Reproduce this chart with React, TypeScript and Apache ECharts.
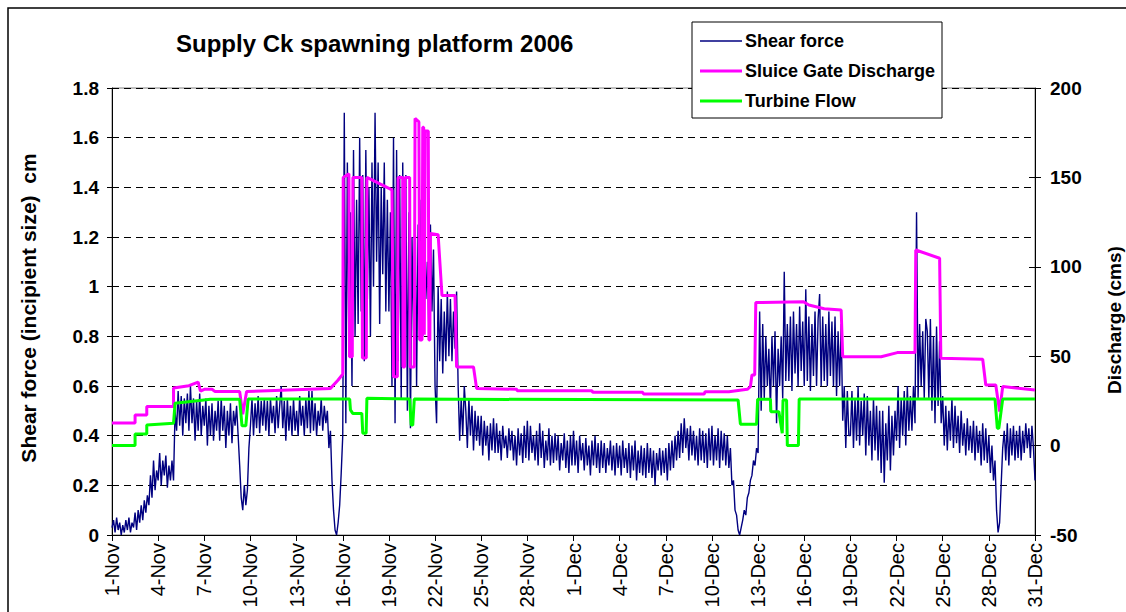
import React, { useEffect, useRef } from "react";
import * as echarts from "echarts";

// X tick labels (every 3 days from 1-Nov to 31-Dec 2006)
const tickLabels = [
  "1-Nov", "4-Nov", "7-Nov", "10-Nov", "13-Nov", "16-Nov", "19-Nov", "22-Nov", "25-Nov", "28-Nov",
  "1-Dec", "4-Dec", "7-Dec", "10-Dec", "13-Dec", "16-Dec", "19-Dec", "22-Dec", "25-Dec", "28-Dec", "31-Dec",
];

// Shear force (cm), 10 readings per day; rows are days starting 1-Nov
const shearNov = [
  [0.03, 0.06, 0.01, 0.07, 0.02, 0.05, 0.0, 0.04, 0.01, 0.06],
  [0.02, 0.07, 0.01, 0.05, 0.03, 0.09, 0.02, 0.1, 0.05, 0.12],
  [0.06, 0.14, 0.09, 0.16, 0.12, 0.24, 0.15, 0.3, 0.18, 0.26],
  [0.22, 0.33, 0.2, 0.3, 0.24, 0.32, 0.19, 0.28, 0.22, 0.3],
  [0.22, 0.5, 0.42, 0.58, 0.44, 0.56, 0.4, 0.55, 0.45, 0.57],
  [0.42, 0.6, 0.45, 0.55, 0.38, 0.54, 0.42, 0.57, 0.4, 0.52],
  [0.44, 0.55, 0.36, 0.52, 0.4, 0.53, 0.38, 0.5, 0.42, 0.54],
  [0.38, 0.55, 0.42, 0.52, 0.35, 0.5, 0.4, 0.53, 0.37, 0.5],
  [0.44, 0.52, 0.4, 0.28, 0.15, 0.1, 0.2, 0.12, 0.18, 0.35],
  [0.44, 0.55, 0.4, 0.53, 0.43, 0.56, 0.41, 0.54, 0.44, 0.55],
  [0.42, 0.54, 0.4, 0.55, 0.45, 0.52, 0.41, 0.56, 0.43, 0.52],
  [0.6, 0.43, 0.54, 0.38, 0.55, 0.42, 0.52, 0.4, 0.55, 0.42],
  [0.5, 0.4, 0.56, 0.44, 0.52, 0.4, 0.55, 0.43, 0.58, 0.41],
  [0.58, 0.42, 0.53, 0.4, 0.5, 0.44, 0.55, 0.42, 0.52, 0.45],
  [0.5, 0.35, 0.42, 0.22, 0.1, 0.02, 0.0, 0.05, 0.12, 0.25],
  [0.4, 1.7, 0.45, 1.5, 0.75, 1.3, 0.6, 1.55, 0.8, 1.35],
  [0.85, 1.6, 0.9, 1.45, 0.7, 1.55, 0.95, 1.4, 0.8, 1.5],
  [1.0, 1.7, 1.1, 1.5, 0.85, 1.4, 1.05, 1.5, 0.9, 1.35],
  [0.9, 1.3, 0.6, 1.6, 0.45, 1.55, 0.7, 1.45, 0.55, 1.5],
  [0.7, 1.45, 0.5, 1.3, 0.43, 1.2, 0.8, 1.35, 0.6, 1.25],
  [0.85, 1.35, 0.8, 1.2, 0.95, 1.1, 0.82, 1.25, 0.9, 1.15],
  [0.6, 0.45, 1.0, 0.7, 0.95, 0.65, 0.9, 0.7, 0.98, 0.72],
  [0.95, 0.7, 0.9, 0.75, 0.98, 0.6, 0.38, 0.55, 0.4, 0.6],
  [0.5, 0.35, 0.55, 0.4, 0.52, 0.34, 0.5, 0.38, 0.48, 0.36],
  [0.48, 0.32, 0.46, 0.36, 0.44, 0.3, 0.45, 0.34, 0.47, 0.33],
  [0.45, 0.33, 0.42, 0.3, 0.44, 0.35, 0.4, 0.31, 0.43, 0.34],
  [0.42, 0.3, 0.4, 0.28, 0.43, 0.32, 0.41, 0.29, 0.44, 0.31],
  [0.46, 0.3, 0.44, 0.33, 0.4, 0.3, 0.42, 0.28, 0.45, 0.31],
  [0.42, 0.27, 0.38, 0.3, 0.43, 0.28, 0.4, 0.29, 0.41, 0.3],
  [0.4, 0.26, 0.37, 0.3, 0.41, 0.27, 0.38, 0.25, 0.4, 0.28],
];
const shearDec = [
  [0.42, 0.28, 0.38, 0.25, 0.4, 0.3, 0.37, 0.26, 0.39, 0.28],
  [0.36, 0.24, 0.38, 0.28, 0.4, 0.27, 0.37, 0.25, 0.38, 0.27],
  [0.37, 0.25, 0.35, 0.28, 0.38, 0.26, 0.36, 0.24, 0.37, 0.27],
  [0.36, 0.24, 0.38, 0.27, 0.35, 0.25, 0.37, 0.23, 0.36, 0.26],
  [0.38, 0.22, 0.34, 0.25, 0.36, 0.24, 0.35, 0.23, 0.37, 0.25],
  [0.35, 0.23, 0.34, 0.2, 0.33, 0.26, 0.35, 0.24, 0.34, 0.25],
  [0.35, 0.22, 0.37, 0.26, 0.38, 0.27, 0.4, 0.3, 0.42, 0.31],
  [0.45, 0.33, 0.47, 0.35, 0.43, 0.3, 0.44, 0.32, 0.42, 0.3],
  [0.4, 0.28, 0.43, 0.3, 0.42, 0.29, 0.41, 0.27, 0.43, 0.3],
  [0.44, 0.28, 0.4, 0.3, 0.43, 0.27, 0.42, 0.3, 0.41, 0.28],
  [0.4, 0.27, 0.35, 0.2, 0.22, 0.1, 0.08, 0.02, 0.0, 0.03],
  [0.06, 0.1, 0.08, 0.15, 0.17, 0.22, 0.24, 0.3, 0.28, 0.35],
  [0.33, 0.9, 0.5, 0.85, 0.55, 0.8, 0.6, 0.75, 0.5, 0.8],
  [0.6, 0.82, 0.45, 0.75, 0.6, 0.8, 0.55, 1.06, 0.62, 0.85],
  [0.62, 0.88, 0.58, 0.9, 0.65, 0.85, 0.6, 0.92, 0.66, 0.86],
  [0.6, 0.99, 0.62, 0.88, 0.58, 0.85, 0.64, 0.9, 0.6, 0.87],
  [0.97, 0.6, 0.88, 0.62, 0.85, 0.6, 0.9, 0.64, 0.86, 0.6],
  [0.88, 0.56, 0.82, 0.6, 0.85, 0.46, 0.6, 0.35, 0.58, 0.4],
  [0.4, 0.58, 0.35, 0.55, 0.38, 0.6, 0.36, 0.54, 0.4, 0.57],
  [0.32, 0.56, 0.36, 0.5, 0.3, 0.55, 0.34, 0.52, 0.3, 0.5],
  [0.25, 0.5, 0.21, 0.45, 0.3, 0.52, 0.26, 0.48, 0.32, 0.5],
  [0.38, 0.6, 0.35, 0.55, 0.4, 0.58, 0.36, 0.6, 0.42, 0.56],
  [0.42, 0.6, 0.45, 1.3, 0.55, 0.85, 0.6, 0.82, 0.55, 0.87],
  [0.82, 0.55, 0.87, 0.5, 0.8, 0.45, 0.84, 0.52, 0.78, 0.45],
  [0.56, 0.36, 0.52, 0.34, 0.5, 0.38, 0.55, 0.35, 0.52, 0.37],
  [0.48, 0.33, 0.5, 0.36, 0.45, 0.32, 0.47, 0.34, 0.44, 0.33],
  [0.46, 0.3, 0.44, 0.33, 0.42, 0.28, 0.45, 0.3, 0.43, 0.29],
  [0.4, 0.25, 0.36, 0.22, 0.3, 0.1, 0.01, 0.05, 0.2, 0.35],
  [0.42, 0.3, 0.45, 0.28, 0.43, 0.32, 0.44, 0.3, 0.42, 0.31],
  [0.44, 0.3, 0.42, 0.33, 0.45, 0.35, 0.43, 0.31, 0.44, 0.35],
];
const shearLast = 0.22;

// Sluice gate discharge (cms): day offset from 1-Nov, value
const sluiceDays = [
  0, 1.5, 1.5, 2.26, 2.26, 4.0, 4.0, 5.0, 5.6, 5.75, 6.0, 6.5, 6.7, 8.3, 8.5, 8.75, 14.2, 14.7, 15.0, 15.03,
  15.4, 15.44, 15.62, 15.66, 16.24, 16.28, 16.53, 16.57, 18.2, 18.3, 18.55, 18.6, 18.9, 18.92, 19.02, 19.05,
  19.35, 19.38, 19.65, 19.7, 19.95, 20.0, 20.15, 20.2, 20.26, 20.3, 20.33, 20.36, 20.56, 20.6, 20.66, 20.7,
  21.2, 21.45, 22.3, 22.4, 23.5, 23.7, 26.3, 26.35, 31.2, 31.25, 34.5, 34.55, 38.5, 38.55, 40.1, 41.3, 41.5,
  41.6, 41.78, 41.85, 44.95, 45.3, 46.3, 47.4, 47.5, 50.0, 51.05, 52.2, 52.25, 53.8, 53.88, 56.6, 56.8,
  57.45, 57.7, 57.9, 60,
];
const sluiceCms = [
  12.6, 12.6, 17.1, 17.1, 21.8, 21.8, 32.2, 33.5, 35.5, 30.5, 31.5, 31.5, 30.2, 30.2, 17.5, 30.2, 32, 36.7, 40, 150,
  152, 49.7, 49.7, 150, 150, 49, 49, 150, 143, 38.5, 38.5, 150, 150, 44, 44, 150,
  150, 44, 44, 183, 181, 59, 59, 178, 178, 62, 62, 176, 176, 59, 59, 118.7,
  118, 84, 84, 44, 44, 32, 31.5, 30.7, 30.7, 29.8, 29.8, 28.9, 28.9, 30.1, 30.1, 31.5, 33,
  39.5, 39.5, 80, 80.5, 78.6, 76.5, 75.8, 49.7, 49.7, 52, 52, 109.4, 104.8, 48.8, 48.3, 33.9,
  33.9, 19, 33, 31.1,
];

// Turbine flow (cms)
const turbineDays = [
  0, 1.5, 1.5, 2.26, 2.26, 4.0, 4.1, 6.4, 8.3, 8.45, 8.7, 8.85, 15.45, 15.5, 15.65, 16.24, 16.3, 16.52, 16.57,
  19.35, 19.45, 19.55, 19.65, 40.7, 40.85, 41.9, 41.97, 42.8, 42.83, 43.35, 43.57, 43.62, 43.85, 43.9, 44.62,
  44.67, 57.4, 57.55, 57.65, 57.9, 60,
];
const turbineCms = [
  0, 0, 6.5, 6.5, 11.5, 12.5, 23.7, 25.9, 25.9, 11.1, 11.1, 26, 26, 20, 18, 18, 6.9, 6.9, 26.5,
  26, 11.5, 11.5, 26, 25.5, 12, 12, 25.9, 25.9, 19, 19, 6.9, 25.5, 25.5, 0, 0,
  26, 26, 9.7, 9.7, 26, 26,
];

const FONT = "'Liberation Sans', Arial, sans-serif";

export default function App() {
  const ref = useRef<HTMLDivElement>(null);

  useEffect(() => {
    if (!ref.current) return;
    const chart = echarts.init(ref.current, undefined, { renderer: "svg" });

    const shearData: number[][] = [];
    [...shearNov, ...shearDec].forEach((row, d) => {
      row.forEach((v, k) => shearData.push([d + k / row.length, v]));
    });
    shearData.push([60, shearLast]);
    const sluiceData = sluiceDays.map((d, i) => [d, sluiceCms[i]]);
    const turbineData = turbineDays.map((d, i) => [d, turbineCms[i]]);

    const boldLabel = { color: "#000", fontFamily: FONT, fontWeight: "bold" as const, fontSize: 19 };

    chart.setOption({
      animation: false,
      backgroundColor: "#fff",
      grid: {
        left: 112,
        right: 91,
        top: 88,
        bottom: 77,
        show: true,
        borderColor: "#808080",
        borderWidth: 1,
        backgroundColor: "transparent",
      },
      xAxis: {
        type: "value",
        min: 0,
        max: 60,
        interval: 3,
        axisLine: { lineStyle: { color: "#000", width: 1 } },
        axisTick: { length: 6, lineStyle: { color: "#000" } },
        splitLine: { show: false },
        axisLabel: {
          rotate: 90,
          margin: 8,
          fontSize: 20,
          color: "#000",
          fontFamily: FONT,
          formatter: (v: number) => tickLabels[Math.round(v / 3)] ?? "",
        },
      },
      yAxis: [
        {
          type: "value",
          min: 0,
          max: 1.8,
          interval: 0.2,
          position: "left",
          axisLine: { show: true, lineStyle: { color: "#000" } },
          axisTick: { show: true, length: 5, lineStyle: { color: "#000" } },
          axisLabel: { ...boldLabel, margin: 13 },
          splitLine: { show: true, lineStyle: { color: "#000", type: [7, 5], width: 1 } },
        },
        {
          type: "value",
          min: -50,
          max: 200,
          interval: 50,
          position: "right",
          axisLine: { show: true, lineStyle: { color: "#000" } },
          axisTick: { show: true, length: 6, lineStyle: { color: "#000" } },
          axisLabel: { ...boldLabel, margin: 15 },
          splitLine: { show: false },
        },
        {
          type: "value",
          min: 0,
          max: 1.8,
          interval: 0.2,
          position: "left",
          axisLine: { show: false },
          axisTick: { show: true, inside: true, length: 5, lineStyle: { color: "#000" } },
          axisLabel: { show: false },
          splitLine: { show: false },
        },
        {
          type: "value",
          min: -50,
          max: 200,
          interval: 50,
          position: "right",
          axisLine: { show: false },
          axisTick: { show: true, inside: true, length: 6, lineStyle: { color: "#000" } },
          axisLabel: { show: false },
          splitLine: { show: false },
        },
      ],
      series: [
        {
          name: "Shear force",
          type: "line",
          yAxisIndex: 0,
          data: shearData,
          showSymbol: false,
          lineStyle: { color: "#000080", width: 1.4 },
          itemStyle: { color: "#000080" },
          z: 2,
        },
        {
          name: "Sluice Gate Discharge",
          type: "line",
          yAxisIndex: 1,
          data: sluiceData,
          showSymbol: false,
          lineStyle: { color: "#FF00FF", width: 3 },
          itemStyle: { color: "#FF00FF" },
          z: 3,
        },
        {
          name: "Turbine Flow",
          type: "line",
          yAxisIndex: 1,
          data: turbineData,
          showSymbol: false,
          lineStyle: { color: "#00FF00", width: 3 },
          itemStyle: { color: "#00FF00" },
          z: 4,
        },
      ],
      graphic: [
        {
          type: "rect",
          z: 0,
          silent: true,
          shape: { x: 8, y: 8, width: 1200, height: 700 },
          style: { fill: "none", stroke: "#000", lineWidth: 1.5 },
        },
        {
          type: "text",
          z: 100,
          x: 176,
          y: 43,
          style: {
            text: "Supply Ck spawning platform 2006",
            font: `bold 24px ${FONT}`,
            fill: "#000",
            align: "left",
            verticalAlign: "middle",
          },
        },
        {
          type: "text",
          z: 100,
          x: 28,
          y: 308,
          rotation: Math.PI / 2,
          style: {
            text: "Shear force (incipient size)  cm",
            font: `bold 21px ${FONT}`,
            fill: "#000",
            align: "center",
            verticalAlign: "middle",
          },
        },
        {
          type: "text",
          z: 100,
          x: 1114,
          y: 320,
          rotation: Math.PI / 2,
          style: {
            text: "Discharge (cms)",
            font: `bold 19px ${FONT}`,
            fill: "#000",
            align: "center",
            verticalAlign: "middle",
          },
        },
        {
          type: "group",
          z: 100,
          children: [
            {
              type: "rect",
              z: 100,
              shape: { x: 692, y: 22, width: 250, height: 96 },
              style: { fill: "#fff", stroke: "#000", lineWidth: 1 },
            },
            {
              type: "line",
              z: 101,
              shape: { x1: 700, y1: 41, x2: 742, y2: 41 },
              style: { stroke: "#000080", lineWidth: 1.5 },
            },
            {
              type: "line",
              z: 101,
              shape: { x1: 700, y1: 71, x2: 742, y2: 71 },
              style: { stroke: "#FF00FF", lineWidth: 3 },
            },
            {
              type: "line",
              z: 101,
              shape: { x1: 700, y1: 101, x2: 742, y2: 101 },
              style: { stroke: "#00FF00", lineWidth: 3 },
            },
            {
              type: "text",
              z: 101,
              x: 745,
              y: 41,
              style: { text: "Shear force", font: `bold 18px ${FONT}`, fill: "#000", verticalAlign: "middle" },
            },
            {
              type: "text",
              z: 101,
              x: 745,
              y: 71,
              style: { text: "Sluice Gate Discharge", font: `bold 18px ${FONT}`, fill: "#000", verticalAlign: "middle" },
            },
            {
              type: "text",
              z: 101,
              x: 745,
              y: 101,
              style: { text: "Turbine Flow", font: `bold 18px ${FONT}`, fill: "#000", verticalAlign: "middle" },
            },
          ],
        },
      ],
    });

    return () => chart.dispose();
  }, []);

  return (
    <div
      ref={ref}
      style={{ position: "absolute", left: 0, top: 0, width: 1126, height: 612 }}
    />
  );
}
